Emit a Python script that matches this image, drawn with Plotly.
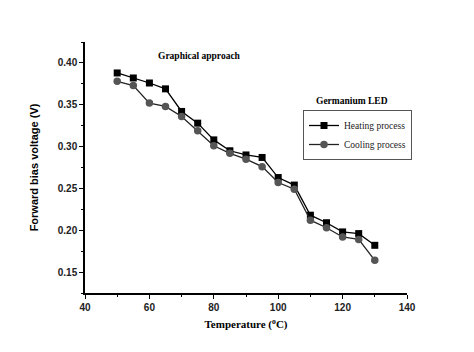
import plotly.graph_objects as go

temperature = [50, 55, 60, 65, 70, 75, 80, 85, 90, 95, 100, 105, 110, 115, 120, 125, 130]
heating = [0.388, 0.382, 0.376, 0.369, 0.342, 0.328, 0.308, 0.295, 0.290, 0.287,
           0.263, 0.254, 0.218, 0.209, 0.198, 0.196, 0.182]
cooling = [0.378, 0.373, 0.352, 0.348, 0.336, 0.319, 0.301, 0.292, 0.285, 0.276,
           0.257, 0.249, 0.212, 0.203, 0.192, 0.189, 0.164]

fig = go.Figure()
fig.add_trace(go.Scatter(x=temperature, y=heating, mode="lines+markers",
                         name="Heating process",
                         line=dict(color="black", width=1.3),
                         marker=dict(symbol="square", size=7, color="black")))
fig.add_trace(go.Scatter(x=temperature, y=cooling, mode="lines+markers",
                         name="Cooling process",
                         line=dict(color="#222222", width=1.3),
                         marker=dict(symbol="circle", size=7.5, color="#555555")))

tickfont = dict(family="Liberation Sans, Arial", size=10, color="#222222", weight="bold")
fig.update_xaxes(range=[40, 140], tickvals=[40, 60, 80, 100, 120, 140],
                 ticks="outside", ticklen=4, tickwidth=1.2, tickcolor="black",
                 minor=dict(dtick=10, ticks="outside", ticklen=2.5, tickcolor="black"),
                 showline=True, linecolor="black", linewidth=1.5,
                 showgrid=False, zeroline=False, tickfont=tickfont,
                 title=dict(text="Temperature (<sup>o</sup>C)", standoff=9,
                            font=dict(family="Liberation Serif, Times New Roman", size=11,
                                      color="black", weight="bold")))
fig.update_yaxes(range=[0.125, 0.425], tickvals=[0.15, 0.20, 0.25, 0.30, 0.35, 0.40],
                 tickformat=".2f",
                 ticks="outside", ticklen=4, tickwidth=1.2, tickcolor="black",
                 minor=dict(dtick=0.025, ticks="outside", ticklen=2.5, tickcolor="black"),
                 showline=True, linecolor="black", linewidth=1.5,
                 showgrid=False, zeroline=False, tickfont=tickfont,
                 title=dict(text="Forward bias voltage (V)", standoff=17,
                            font=dict(family="Liberation Sans, Arial", size=11,
                                      color="black", weight="bold")))

fig.add_annotation(xref="paper", yref="paper", x=(199 - 85) / 322, y=(293 - 56) / 251,
                   xanchor="center", yanchor="middle",
                   text="Graphical approach", showarrow=False,
                   font=dict(family="Liberation Serif, Times New Roman", size=9.5,
                             color="black", weight="bold"))
fig.add_annotation(xref="paper", yref="paper", x=(352 - 85) / 322, y=(293 - 101) / 251,
                   xanchor="center", yanchor="middle",
                   text="Germanium LED", showarrow=False,
                   font=dict(family="Liberation Serif, Times New Roman", size=9.5,
                             color="black", weight="bold"))

fig.update_layout(
    width=474, height=352,
    margin=dict(l=85, r=67, t=42, b=59),
    paper_bgcolor="white", plot_bgcolor="white",
    showlegend=True,
    legend=dict(x=(303 - 85) / 322, y=(293 - 110) / 251, xanchor="left", yanchor="top",
                bordercolor="#555", borderwidth=1, bgcolor="white",
                font=dict(family="Liberation Serif, Times New Roman", size=9.5, color="#222"),
                itemwidth=30, tracegroupgap=0),
)

fig.write_html("out.html")
